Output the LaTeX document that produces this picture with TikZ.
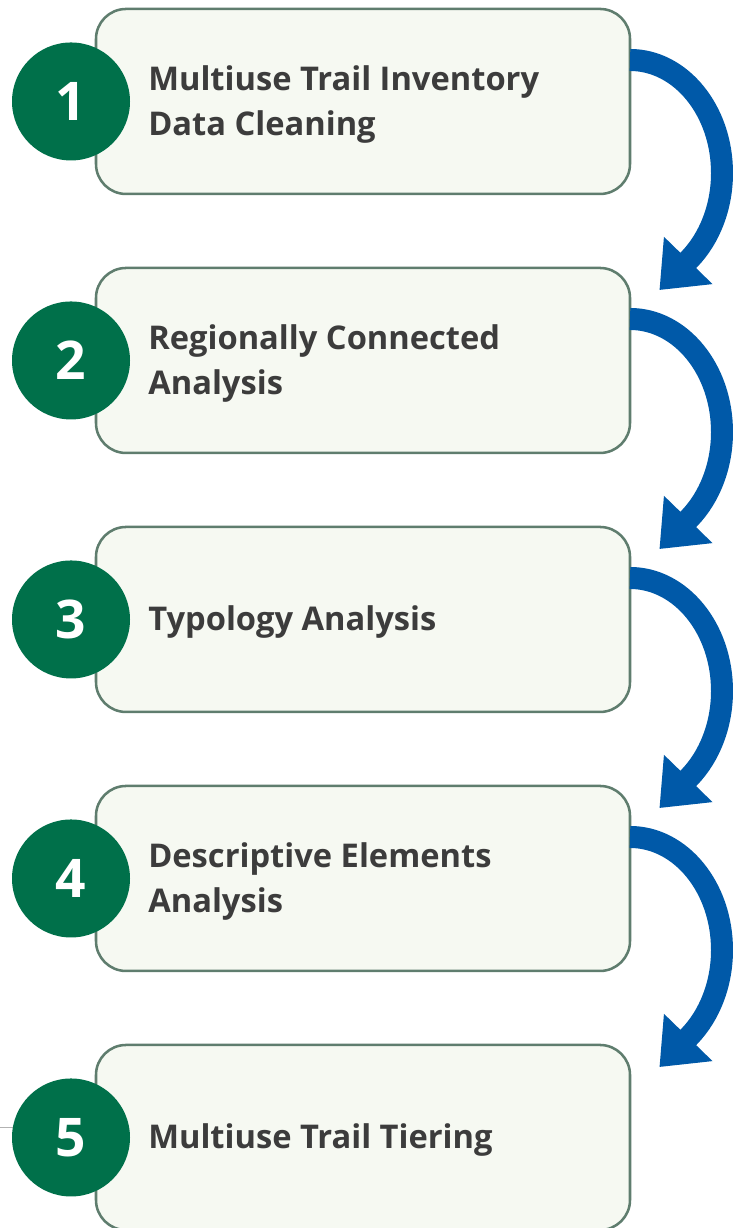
\documentclass[tikz,border=0pt]{standalone}
\usepackage{fontspec}
\setmainfont{Open Sans}
\usetikzlibrary{arrows.meta, positioning}
\definecolor{greenA}{HTML}{00704A}
\definecolor{grayA}{HTML}{3C3C3C}
\definecolor{frameA}{HTML}{5F7D6E}
\definecolor{fillA}{HTML}{F6F9F2}
\definecolor{blueA}{HTML}{0059A8}
\tikzset{
  stagebox/.style={
    draw=frameA, fill=fillA, rounded corners=22.5pt,
    line width=1.9pt, inner sep=0pt, outer sep=0pt,
    minimum width=400.5pt, minimum height=138.75pt
  },
  badge/.style={
    circle, fill=greenA, minimum size=88.5pt, inner sep=0pt,
    text=white, font=\fontsize{40}{40}\selectfont\bfseries
  },
  steptext/.style={
    anchor=west, align=left, inner sep=0pt, text=grayA,
    font=\fontsize{24.5}{33.75}\selectfont\bfseries
  },
  flow/.style={draw=blueA, line width=16.5pt, -{Triangle[length=31pt, width=48.75pt]}}
}

\begin{document}
\begin{tikzpicture}
  \useasboundingbox (0,0) rectangle (549pt,-921pt);

  \node[stagebox] (b1) at (272.25pt,-76.1pt) {};
  \node[stagebox, below=55.5pt of b1] (b2) {};
  \node[stagebox, below=55.5pt of b2] (b3) {};
  \node[stagebox, below=55.5pt of b3] (b4) {};
  \node[stagebox, below=55.5pt of b4] (b5) {};

  % stray rule at the left edge
  \coordinate (edge) at (0,-845.25pt);
  \draw[gray!60, line width=0.75pt] (edge) -- ++(12pt,0);

  \node[badge] (n1) at ([xshift=-18.75pt]b1.west) {1};
  \node[badge] (n2) at ([xshift=-18.75pt]b2.west) {2};
  \node[badge] (n3) at ([xshift=-18.75pt]b3.west) {3};
  \node[badge] (n4) at ([xshift=-18.75pt]b4.west) {4};
  \node[badge] (n5) at ([xshift=-18.75pt]b5.west) {5};

  \node[steptext, right=39pt of b1.west, yshift=-2pt] (t1) {Multiuse Trail Inventory\\Data Cleaning};
  \node[steptext, right=39pt of b2.west, yshift=-2pt] (t2) {Regionally Connected\\Analysis};
  \node[steptext, right=39pt of b3.west, yshift=-2pt] (t3) {Typology Analysis};
  \node[steptext, right=39pt of b4.west, yshift=-2pt] (t4) {Descriptive Elements\\Analysis};
  \node[steptext, right=39pt of b5.west, yshift=-2pt] (t5) {Multiuse Trail Tiering};

  \draw[flow] ([yshift=-38.25pt]b1.north east)
    arc[start angle=90, end angle=-50, x radius=69pt, y radius=84.75pt] -- ++(-22.3pt,-22.9pt);
  \draw[flow] ([yshift=-38.25pt]b2.north east)
    arc[start angle=90, end angle=-50, x radius=69pt, y radius=84.75pt] -- ++(-22.3pt,-22.9pt);
  \draw[flow] ([yshift=-38.25pt]b3.north east)
    arc[start angle=90, end angle=-50, x radius=69pt, y radius=84.75pt] -- ++(-22.3pt,-22.9pt);
  \draw[flow] ([yshift=-38.25pt]b4.north east)
    arc[start angle=90, end angle=-50, x radius=69pt, y radius=84.75pt] -- ++(-22.3pt,-22.9pt);
\end{tikzpicture}
\end{document}
